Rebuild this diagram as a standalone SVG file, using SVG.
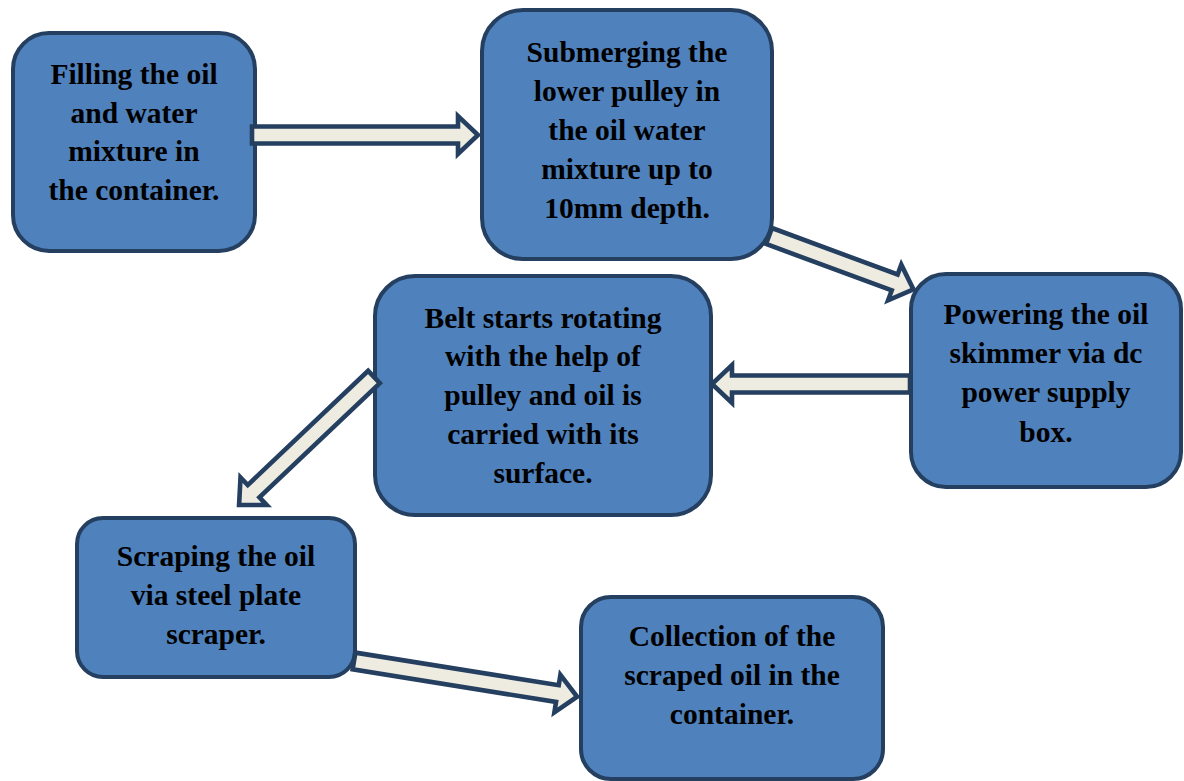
<svg xmlns="http://www.w3.org/2000/svg" width="1184" height="781" viewBox="0 0 1184 781">
<style>
.box{fill:#4F81BD;stroke:#243F60;stroke-width:4}
.arr{fill:#EEECE1;stroke:#243F60;stroke-width:4.6;stroke-linejoin:miter}
text{font-family:"Liberation Serif","Times New Roman",serif;font-weight:bold;font-size:29.5px;fill:#000;text-anchor:middle}
</style>
<rect width="1184" height="781" fill="#fff"/>
<g id="n1">
<rect class="box" x="13" y="33" width="242" height="218" rx="36"/>
<text x="134" y="84">Filling the oil</text>
<text x="134" y="123">and water</text>
<text x="134" y="161">mixture in</text>
<text x="134" y="200">the container.</text>
</g>
<g id="n2">
<rect class="box" x="482" y="10" width="290" height="249" rx="41"/>
<text x="627" y="62">Submerging the</text>
<text x="627" y="101">lower pulley in</text>
<text x="627" y="140">the oil water</text>
<text x="627" y="179">mixture up to</text>
<text x="627" y="218">10mm depth.</text>
</g>
<g id="n3">
<rect class="box" x="911" y="274" width="270" height="213" rx="35"/>
<text x="1046" y="324">Powering the oil</text>
<text x="1046" y="363">skimmer via dc</text>
<text x="1046" y="402">power supply</text>
<text x="1046" y="442">box.</text>
</g>
<g id="n4">
<rect class="box" x="375" y="276" width="336" height="239" rx="40"/>
<text x="543" y="328">Belt starts rotating</text>
<text x="543" y="366">with the help of</text>
<text x="543" y="405">pulley and oil is</text>
<text x="543" y="444">carried with its</text>
<text x="543" y="483">surface.</text>
</g>
<g id="n5">
<rect class="box" x="77" y="518" width="278" height="159" rx="26"/>
<text x="216" y="566">Scraping the oil</text>
<text x="216" y="605">via steel plate</text>
<text x="216" y="644">scraper.</text>
</g>
<g id="n6">
<rect class="box" x="581" y="597" width="302" height="182" rx="30"/>
<text x="732" y="646">Collection of the</text>
<text x="732" y="685">scraped oil in the</text>
<text x="732" y="724">container.</text>
</g>
<g id="connectors">
<path class="arr" transform="translate(252,135)" d="M0,-8.5H206V-19L226,0L206,19V8.5H0Z"/>
<path class="arr" transform="translate(769,236) rotate(20.3)" d="M0,-8.5H134V-19L154,0L134,19V8.5H0Z"/>
<path class="arr" transform="translate(910,384) rotate(180)" d="M0,-8.5H178V-19L198,0L178,19V8.5H0Z"/>
<path class="arr" transform="translate(374,377) rotate(136.5)" d="M0,-8.5H166V-19L186,0L166,19V8.5H0Z"/>
<path class="arr" transform="translate(354,661) rotate(9.1)" d="M0,-8.5H206V-19L226,0L206,19V8.5H0Z"/>
</g>
</svg>
